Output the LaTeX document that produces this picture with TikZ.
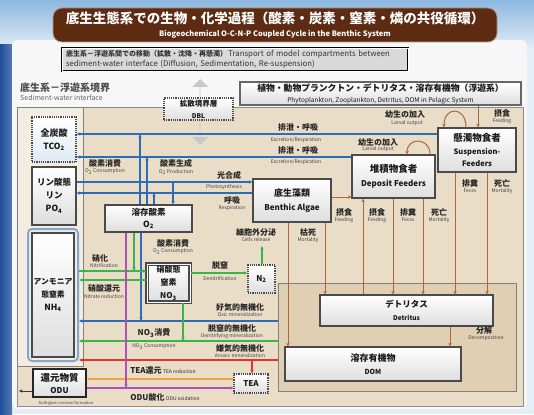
\documentclass[tikz,border=0pt]{standalone}
\usepackage{fontspec}
\setmainfont{Noto Sans CJK JP}
\usetikzlibrary{arrows.meta,shapes.arrows}
\definecolor{sedtan}{HTML}{EADDC8}
\definecolor{sedtanD}{HTML}{E0CFB3}
\definecolor{cblue}{HTML}{2E6DB6}
\definecolor{cgreen}{HTML}{3BB44A}
\definecolor{cmag}{HTML}{B04FB5}
\definecolor{cred}{HTML}{E2352B}
\definecolor{corange}{HTML}{F3A53B}
\definecolor{cbrown}{HTML}{B0653C}
\definecolor{boxline}{HTML}{4A4A4A}
\definecolor{titlebrown}{HTML}{5C2B12}
\definecolor{skyblue}{HTML}{8DB8E0}
\definecolor{paleblue}{HTML}{E4EEF7}
\definecolor{darkblue}{HTML}{1E4E98}
\newcommand{\myfs}[1]{\fontsize{#1}{#1}\selectfont}
\tikzset{
  box/.style={draw=boxline, line width=1.2pt, top color=white, bottom color=black!13, align=center, inner sep=1pt, text=black!90},
  dotbox/.style={box, densely dotted, line width=1.4pt},
  jpl/.style={inner sep=0pt, font=\bfseries\myfs{8}, text=black!85},
  enl/.style={inner sep=0pt, font=\myfs{5}, text=black!75},
  tip/.style={-{Stealth[length=3.6pt,width=3.4pt]}},
  bl/.style={tip, draw=cblue, line width=1.1pt},
  gr/.style={tip, draw=cgreen, line width=1.1pt},
  rd/.style={tip, draw=cred, line width=1.1pt},
  mg/.style={tip, draw=cmag, line width=1.1pt},
  og/.style={tip, draw=corange, line width=1.3pt},
  bn/.style={tip, draw=cbrown, line width=1pt},
}
\begin{document}
\begin{tikzpicture}[x=1pt,y=-1pt]
\useasboundingbox (0,0) rectangle (534,414);
% background
\fill[paleblue] (0,0) rectangle (534,414);
\shade[top color=skyblue, bottom color=paleblue] (0,0) rectangle (534,50);
\shade[left color=darkblue, right color=darkblue!75] (0,45) rectangle (12,414);
\fill[black!3, rounded corners=6pt] (12,40) rectangle (527,409);
\fill[sedtan] (17,107) rectangle (523,406);
\draw[black!45, line width=0.6pt] (17,107) rectangle (523,406);

% title
\node[fill=titlebrown, draw=titlebrown!50!white, line width=0.8pt, rounded corners=9pt, minimum width=444, minimum height=34, inner sep=0pt, text=white, align=center] (title) at (275,25)
  {{\bfseries\myfs{13.5}底生生態系での生物・化学過程（酸素・炭素・窒素・燐の共役循環）}\\[1pt]{\bfseries\myfs{7.5}Biogeochemical O-C-N-P Coupled Cycle in the Benthic System}};

% transport box
\node[draw=black, double, double distance=0.8pt, fill=black!15, minimum width=346, minimum height=23, inner sep=2pt, align=left, text width=338, font=\myfs{7.8}, text=black!80] (trans) at (235,59.5)
  {{\bfseries\myfs{7}底生系－浮遊系間での移動（拡散・沈降・再懸濁）}\,Transport of model compartments between\\[1pt]sediment-water interface (Diffusion, Sedimentation, Re-suspension)};

% interface label
\node[anchor=west, font=\bfseries\myfs{10}, text=black!70, inner sep=0pt] (ifj) at (20,88) {底生系－浮遊系境界};
\node[anchor=west, font=\myfs{7}, text=black!60, inner sep=0pt] (ife) at (20,97.5) {Sediment-water interface};

% flux double arrow and DBL
\node[double arrow, fill=black!22, draw=none, minimum height=66, minimum width=16, double arrow head extend=5pt, rotate=90, inner sep=0pt] (flux) at (200,112) {};
\node[dotbox, minimum width=69, minimum height=22, font=\bfseries] (dbl) at (198.5,109) {{\myfs{7.5}拡散境界層}\\{\myfs{6.5}DBL}};

% plankton box
\node[box, draw=black!60, minimum width=281, minimum height=23, inner sep=0pt] (plank) at (380.5,93.5)
  {{\myfs{8.8}\bfseries 植物・動物プランクトン・デトリタス・溶存有機物（浮遊系）}\\[-1pt]{\myfs{6.5}Phytoplankton, Zooplankton, Detritus, DOM in Pelagic System}};

% left column
\node[draw=black!50, line width=0.8pt, fill=sedtan!55!white, minimum width=66, minimum height=259, inner sep=0pt] (leftcol) at (50,236.5) {};
\node[dotbox, top color=white, bottom color=cblue!15, minimum width=44, minimum height=45, font=\bfseries] (tco2) at (54,139.5) {{\myfs{9}全炭酸}\\[1pt]{\myfs{8.5}TCO\textsubscript{2}}};
\node[box, minimum width=44, minimum height=58, font=\bfseries] (po4) at (54,196) {{\myfs{8.5}リン酸態}\\[1pt]{\myfs{8.5}リン}\\[1pt]{\myfs{8.5}PO\textsubscript{4}}};
\node[draw=cblue!60, line width=2pt, rounded corners=4pt, minimum width=50, minimum height=132, inner sep=0pt] (nh4f) at (53,295) {};
\node[box, minimum width=42, minimum height=124, font=\bfseries] (nh4) at (53,295) {{\myfs{7.8}アンモニア}\\[1pt]{\myfs{7.8}態窒素}\\[1pt]{\myfs{8.5}NH\textsubscript{4}}};

% middle boxes
\node[box, minimum width=87, minimum height=27, font=\bfseries] (o2) at (148.5,218.5) {{\myfs{8.5}溶存酸素}\\{\myfs{8.5}O\textsubscript{2}}};
\node[box, double, double distance=0.8pt, minimum width=43, minimum height=38, font=\bfseries] (no3) at (168.5,283) {{\myfs{8}硝酸態}\\[1pt]{\myfs{8}窒素}\\[1pt]{\myfs{8}NO\textsubscript{3}}};
\node[dotbox, minimum width=27, minimum height=28, font=\bfseries\myfs{8}] (n2) at (261.5,279) {N\textsubscript{2}};
\node[box, minimum width=78, minimum height=43, font=\bfseries] (algae) at (292,200.5) {{\myfs{9}底生藻類}\\[2pt]{\myfs{8}Benthic Algae}};
\node[box, minimum width=83, minimum height=43, font=\bfseries] (dep) at (393.5,176.5) {{\myfs{9.5}堆積物食者}\\[2pt]{\myfs{8}Deposit Feeders}};
\node[box, minimum width=78, minimum height=44, font=\bfseries] (susp) at (477,150) {{\myfs{9.5}懸濁物食者}\\[1pt]{\myfs{7.5}Suspension-}\\{\myfs{7.5}Feeders}};

% inner region
\node[draw=black!50, line width=1pt, fill=sedtanD, minimum width=238, minimum height=108, inner sep=0pt] (inner) at (397,337) {};
\node[box, minimum width=173, minimum height=31, font=\bfseries] (det) at (406.5,310.5) {{\myfs{8.5}デトリタス}\\[1pt]{\myfs{6.5}Detritus}};
\node[box, minimum width=176, minimum height=34, font=\bfseries] (dom) at (373,364) {{\myfs{9}溶存有機物}\\[1pt]{\myfs{7}DOM}};

% ODU and TEA
\node[box, line width=1.4pt, draw=black!85, minimum width=53, minimum height=28, font=\bfseries] (odu) at (59.5,383) {{\myfs{9.5}還元物質}\\{\myfs{8}ODU}};
\node[dotbox, minimum width=34, minimum height=19, font=\bfseries\myfs{8}] (tea) at (251,383.5) {TEA};

% junction coordinates
\coordinate (jA) at (140,134);
\coordinate (jB) at (147,157);
\coordinate (jC) at (154,193);
\coordinate (jD) at (173,182);
\coordinate (jN) at (134,271);
\coordinate (jNr) at (100,280);
\coordinate (jDn) at (220,273);
\coordinate (jOx) at (141,321);
\coordinate (jNc) at (183,341);
\coordinate (jR) at (252,360);
\coordinate (jO1) at (200,379);
\coordinate (jM) at (126,388);
\coordinate (jN2) at (262,246);
\coordinate (jOdu) at (19,391);

% blue connectors
\draw[bl] (susp.west |- jA) -- (tco2.east |- jA);
\draw[bl] (dep.west |- jB) -- (tco2.east |- jB);
\draw[bl] (po4.east |- jD) -- (algae.west |- jD);
\draw[bl] (algae.west |- jC) -- (po4.east |- jC);
\draw[bl] (o2.north -| jA) -- (jA);
\draw[bl] (o2.north -| jB) -- (jB);
\draw[bl] (o2.north -| jC) -- (jC);
\draw[bl] (jD) -- (o2.north -| jD);
\draw[bl] (inner.west |- jOx) -- (nh4f.east |- jOx);
\draw[bl] (o2.south -| jOx) -- (jOx);

% green connectors
\draw[gr] (nh4f.east |- jN) -- (no3.west |- jN);
\draw[gr] (no3.west |- jNr) -- (nh4f.east |- jNr);
\draw[gr] (o2.south -| jN) -- (jN);
\draw[gr] (no3.east |- jDn) -- (n2.west |- jDn);
\draw[gr] (n2.north -| jN2) -- (jN2);
\draw[gr] (no3.south -| jNc) -- (jNc);
\draw[gr] (inner.west |- jNc) -- (nh4f.east |- jNc);

% red, orange, magenta
\draw[rd] (inner.west |- jR) -- (nh4f.east |- jR);
\draw[rd] (jR) -- (tea.north -| jR);
\draw[og] (tea.west |- jO1) -- (odu.east |- jO1);
\draw[mg] (odu.east |- jM) -- (tea.west |- jM);
\draw[mg] (o2.south -| jM) -- (jM);
\draw[tip, draw=black!80, line width=0.9pt] (odu.west |- jOdu) -- (jOdu);

% brown connectors
\draw[bn] (algae.south -| 288,0) -- (dom.north -| 288,0);
\draw[bn] (algae.south -| 325,0) -- (det.north -| 325,0);
\draw[bn] (det.north -| 363,0) -- (dep.south -| 363,0);
\draw[bn] (dep.south -| 393,0) -- (det.north -| 393,0);
\draw[bn] (dep.south -| 423,0) -- (det.north -| 423,0);
\draw[bn] (susp.south -| 455,0) -- (det.north -| 455,0);
\draw[bn] (susp.south -| 487,0) -- (det.north -| 487,0);
\draw[bn] (det.south -| 450,0) -- (dom.north -| 450,0);
\draw[bn] (algae.east |- 0,197) -- (dep.west |- 0,197);
\draw[bn] (plank.south -| 478,0) -- (susp.north -| 478,0);
\draw[bn] (susp.north -| 466,0) .. controls (466,106) and (444,106) .. (susp.north -| 444,0);
\draw[bn] (dep.north -| 430,0) .. controls (430,137) and (407,137) .. (dep.north -| 407,0);

% labels
\node[jpl] at (298,127) {排泄・呼吸};
\node[enl] at (296,140) {Excretion/Respiration};
\node[jpl] at (298,150) {排泄・呼吸};
\node[enl] at (296,162) {Excretion/Respiration};
\node[jpl] at (105,163) {酸素消費};
\node[enl] at (105,172) {O\textsubscript{2} Consumption};
\node[jpl] at (176,163) {酸素生成};
\node[enl] at (176,172) {O\textsubscript{2} Production};
\node[jpl] at (229,175) {光合成};
\node[enl] at (224,187.5) {Photosynthesis};
\node[jpl] at (232,200) {呼吸};
\node[enl] at (232,208) {Respiration};
\node[jpl] at (405,114) {幼生の加入};
\node[enl] at (407,123) {Larval output};
\node[jpl] at (378,142) {幼生の加入};
\node[enl] at (378,149.5) {Larval output};
\node[jpl] at (502,113) {摂食};
\node[enl] at (502,121) {Feeding};
\node[jpl] at (256,232) {細胞外分泌};
\node[enl] at (256,240) {Cells release};
\node[jpl] at (308,232) {枯死};
\node[enl] at (308,240) {Mortality};
\node[jpl] at (344,212) {摂食};
\node[enl] at (344,220) {Feeding};
\node[jpl] at (377,212) {摂食};
\node[enl] at (377,220) {Feeding};
\node[jpl] at (408,212) {排糞};
\node[enl] at (408,220) {Feces};
\node[jpl] at (439,212) {死亡};
\node[enl] at (439,220) {Mortality};
\node[jpl] at (470,183) {排糞};
\node[enl] at (470,191) {Feces};
\node[jpl] at (502,183) {死亡};
\node[enl] at (502,191) {Mortality};
\node[jpl] at (484,330) {分解};
\node[enl] at (486,338) {Decomposition};
\node[jpl] at (173,243) {酸素消費};
\node[enl] at (173,252) {O\textsubscript{2} Consumption};
\node[jpl] at (100,258) {硝化};
\node[enl] at (104,266) {Nitrification};
\node[jpl] at (104,288) {硝酸還元};
\node[enl] at (104,297) {Nitrate reduction};
\node[jpl] at (220,265) {脱窒};
\node[enl] at (220,279) {Denitrification};
\node[jpl] at (240,308) {好気的無機化};
\node[enl] at (240,315) {Oxic mineralization};
\node[jpl] at (154,333) {NO\textsubscript{3}消費};
\node[enl] at (154,347) {NO\textsubscript{3} Consumption};
\node[jpl] at (232,328) {脱窒的無機化};
\node[enl] at (232,336) {Denitrifying mineralization};
\node[jpl] at (240,349) {嫌気的無機化};
\node[enl] at (240,356) {Anoxic mineralization};
\node[jpl] at (163,371) {TEA還元\,{\mdseries\myfs{5}TEA reduction}};
\node[jpl] at (165,397) {ODU酸化\,{\mdseries\myfs{5}ODU oxidation}};
\node[enl, font=\myfs{4}] at (66,403) {Authigenic mineral formation};
\end{tikzpicture}
\end{document}
